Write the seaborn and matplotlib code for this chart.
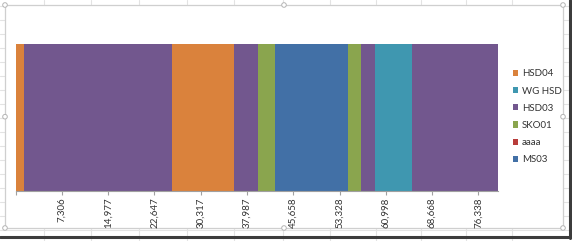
import numpy as np
import pandas as pd
import matplotlib
matplotlib.use('Agg')
import matplotlib.pyplot as plt
import seaborn as sns
from matplotlib.patches import Patch, Rectangle, Circle

# ---- data ----
series_names = ['HSD04', 'WG HSD', 'HSD03', 'SKO01', 'aaaa', 'MS03']
series_colors = ['#DA823C', '#3F97B0', '#72578E', '#8AA54E', '#B83C3A', '#4270A6']
segment_series = ['HSD04', 'HSD03', 'HSD04', 'HSD03', 'SKO01', 'MS03',
                  'SKO01', 'HSD03', 'WG HSD', 'HSD03']
segment_widths = [1426, 24490, 10280, 4029, 2819, 12104, 2156, 2272, 6184, 14260]
axis_min = -364
tick_values = [7306, 14977, 22647, 30317, 37987, 45658, 53328, 60998, 68668, 76338]

sns.set_theme(style='white')
plt.rcParams['font.family'] = ['Lato', 'DejaVu Sans']

W, H = 572, 241
fig = plt.figure(figsize=(W / 100, H / 100), dpi=100)
fig.patch.set_facecolor('white')

# ---- spreadsheet background / chart frame decoration ----
bg = fig.add_axes([0, 0, 1, 1], zorder=-10)
bg.set_xlim(0, W)
bg.set_ylim(H, 0)
bg.axis('off')
for gx in [44, 91, 139, 187, 234, 283, 330, 376, 421, 466, 512]:
    bg.plot([gx, gx], [0, H], color='#e3e3e3', lw=0.8)
for gy in np.arange(6, H, 14):
    bg.plot([0, W], [gy, gy], color='#e3e3e3', lw=0.8)
bg.add_patch(Rectangle((5, 5), 558, 223, facecolor='white',
                       edgecolor='#cfcfcf', lw=0.9, zorder=2))
bg.plot([570, 570], [0, 238], color='#3c3c3c', lw=2.2, zorder=3)
bg.plot([0, 571], [237, 237], color='#3c3c3c', lw=2.2, zorder=3)
for hx, hy in [(5, 5), (284, 5), (563, 5), (5, 116.7), (563, 116.7),
               (5, 228), (284, 228), (563, 228)]:
    bg.add_patch(Circle((hx, hy), 2.3, facecolor='white',
                        edgecolor='#b5b5b5', lw=0.7, zorder=4))

# ---- bar ----
ax = fig.add_axes([15.7 / W, 1 - 190.5 / H, (498.3 - 15.7) / W, (190.5 - 44.3) / H])
ax.set_facecolor('none')
df = pd.DataFrame({'series': segment_series, 'width': segment_widths})
df['end'] = np.cumsum(df['width'])  # measured from the axis minimum
df['row'] = 'bar'
color_map = dict(zip(series_names, series_colors))
for i in reversed(range(len(df))):
    sns.barplot(data=df.iloc[[i]], x='end', y='row', orient='h',
                color=color_map[df['series'][i]], saturation=1, width=1,
                linewidth=0, edgecolor='none', ax=ax)

total = df['end'].iloc[-1]
ax.set_xlim(0, total)
ax.set_ylim(0.5, -0.5)
ax.set_xlabel('')
ax.set_ylabel('')
ax.set_yticks([])
tick_pos = [0] + [v - axis_min for v in tick_values]
tick_lab = [''] + [f'{v:,}' for v in tick_values]
ax.set_xticks(tick_pos)
ax.set_xticklabels(tick_lab, rotation=90, fontsize=7, color='#333333')
ax.tick_params(axis='x', direction='out', length=3, width=0.8,
               color='#a0a0a0', pad=2, bottom=True)
for s in ['top', 'right', 'left']:
    ax.spines[s].set_visible(False)
ax.spines['bottom'].set_color('#a0a0a0')
ax.spines['bottom'].set_linewidth(0.8)

# ---- legend ----
handles = [Patch(facecolor=c, edgecolor='none', label=n)
           for n, c in zip(series_names, series_colors)]
fig.legend(handles=handles, loc='upper left',
           bbox_to_anchor=(512.5 / W, 1 - 69.5 / H), frameon=False,
           fontsize=7, handlelength=0.6, handleheight=0.6,
           handletextpad=0.35, labelspacing=0.84,
           borderpad=0, borderaxespad=0, labelcolor='#333333')

fig.savefig('out.png', dpi=100, facecolor='white')
